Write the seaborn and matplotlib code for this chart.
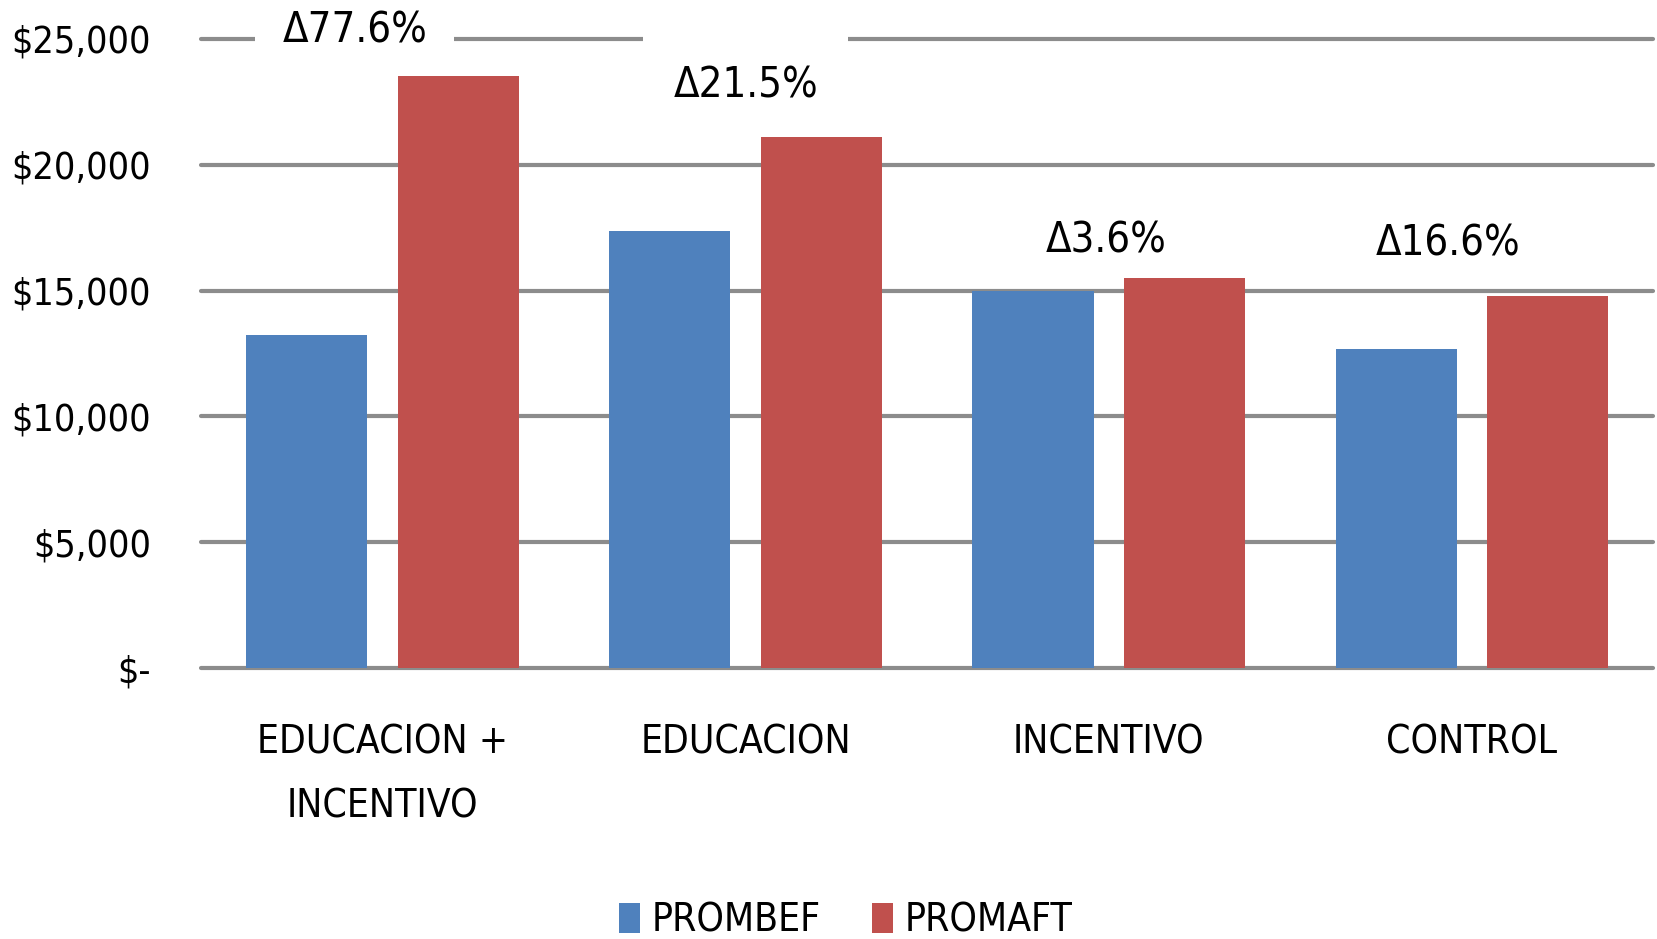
import matplotlib
matplotlib.use("Agg")
import matplotlib.pyplot as plt
import seaborn as sns
import pandas as pd

categories = ["EDUCACION +\nINCENTIVO", "EDUCACION", "INCENTIVO", "CONTROL"]
series_names = ["PROMBEF", "PROMAFT"]
prombef = [13240, 17350, 15000, 12690]
promaft = [23530, 21090, 15480, 14790]
delta_labels = ["Δ77.6%", "Δ21.5%", "Δ3.6%", "Δ16.6%"]
ytick_values = [0, 5000, 10000, 15000, 20000, 25000]
ytick_labels = ["$-", "$5,000", "$10,000", "$15,000", "$20,000", "$25,000"]

df = pd.DataFrame({
    "cat": categories * 2,
    "serie": [series_names[0]] * 4 + [series_names[1]] * 4,
    "valor": prombef + promaft,
})

sns.set_theme(style="white")
plt.rcParams["font.family"] = ["DejaVu Sans"]
plt.rcParams["font.stretch"] = "condensed"
plt.rcParams["text.color"] = "black"
plt.rcParams["xtick.color"] = "black"
plt.rcParams["ytick.color"] = "black"

fig = plt.figure(figsize=(16.58, 9.39), dpi=100)
ax = fig.add_axes([0.1212, 0.2886, 0.876, 0.67])

sns.barplot(data=df, x="cat", y="valor", hue="serie", order=categories,
            hue_order=series_names, palette=["#4F81BD", "#C0504D"],
            width=0.834, gap=0.2, saturation=1, errorbar=None, ax=ax,
            linewidth=0, zorder=3)

ax.set_ylim(0, 25000)
ax.set_yticks(ytick_values)
ax.set_yticklabels(ytick_labels)
ax.yaxis.grid(True, color="#8C8C8C", linewidth=3)
for gl in ax.get_ygridlines():
    gl.set_clip_on(False)
ax.set_axisbelow(True)
for s in ax.spines.values():
    s.set_visible(False)
ax.set_xlabel("")
ax.set_ylabel("")
ax.tick_params(axis="y", labelsize=27, pad=36, length=0)
ax.tick_params(axis="x", labelsize=28, pad=40, length=0)
for lbl in ax.get_xticklabels():
    lbl.set_linespacing(1.85)
ax.set_xlim(-0.5, 3.5)

# annotations (white box interrupts gridlines, drawn below bars)
offsets = [(-20, 33), (0, 37), (-2, 27), (-17, 38)]
pads = [0.65, 0.72, 0.5, 0.5]
for i, (lab, off, pd_) in enumerate(zip(delta_labels, offsets, pads)):
    top = max(prombef[i], promaft[i])
    ax.annotate(lab, xy=(i, top), xytext=off, textcoords="offset points",
                ha="center", va="center", fontsize=30, zorder=2,
                bbox=dict(boxstyle=f"square,pad={pd_}", fc="white", ec="none"),
                annotation_clip=False)

leg = ax.legend(loc="upper center", bbox_to_anchor=(0.444, -0.315), ncol=2,
                frameon=False, fontsize=28, handlelength=0.55, handleheight=0.8,
                handletextpad=0.3, columnspacing=1.3)

fig.savefig("out.png", dpi=100)
